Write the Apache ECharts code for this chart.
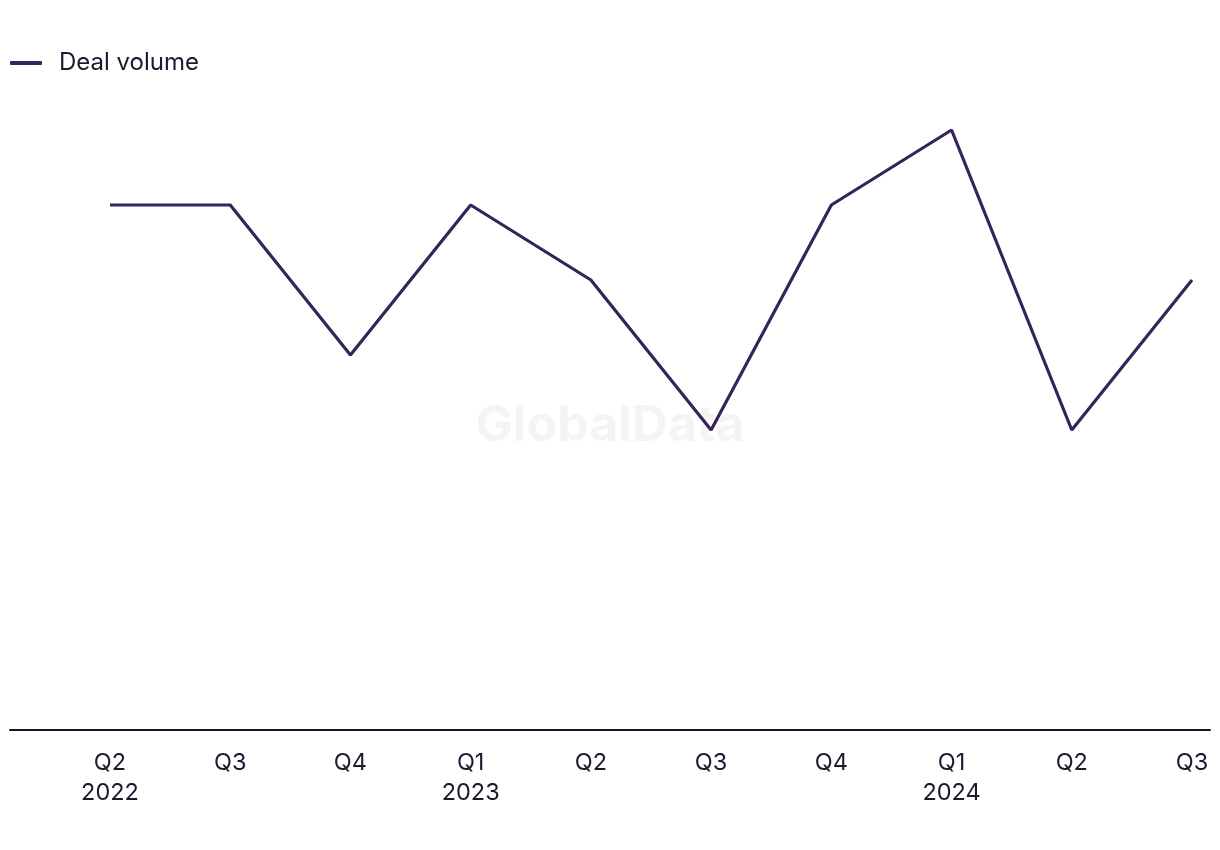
<!DOCTYPE html>
<html>
<head>
<meta charset="utf-8">
<script src="https://cdn.jsdelivr.net/npm/echarts@6/dist/echarts.min.js"></script>
<style>
html,body{margin:0;padding:0;background:#fff;}
#chart{width:1220px;height:850px;}
</style>
</head>
<body>
<div id="chart"></div>
<script>
const categories = ['Q2\n2022','Q3','Q4','Q1\n2023','Q2','Q3','Q4','Q1\n2024','Q2','Q3'];
const dealVolume = [7,7,5,7,6,4,7,8,4,6];
const seriesName = 'Deal volume';

const lineColor = '#36235a';
const textColor = '#1b1a2e';
const chart = echarts.init(document.getElementById('chart'));
chart.setOption({
  backgroundColor: '#ffffff',
  animation: false,
  textStyle: {fontFamily: 'Inter'},
  legend: {
    left: 5, top: 46,
    icon: 'roundRect',
    itemWidth: 32, itemHeight: 4,
    itemGap: 20,
    textStyle: {fontSize: 24, color: textColor, fontFamily: 'Inter', padding: [0,0,0,12]},
    data: [seriesName]
  },
  graphic: [{
    type: 'text', left: 'center', top: 401, z: -1,
    style: {text: 'GlobalData', fill: '#f4f4f4', font: 'bold 50px Inter'}
  }],
  grid: [
    {left: 110, right: 28, top: 130, bottom: 120},
    {left: 10, right: 10, top: 130, bottom: 120}
  ],
  xAxis: [
    {
      type: 'category', gridIndex: 0, data: categories, boundaryGap: false,
      axisLine: {show: false}, axisTick: {show: false},
      axisLabel: {color: textColor, fontSize: 23.5, lineHeight: 30, margin: 18, fontFamily: 'Inter', interval: 0}
    },
    {
      type: 'value', gridIndex: 1, min: 0, max: 1,
      axisLine: {show: true, lineStyle: {color: '#15142a', width: 2}},
      axisTick: {show: false}, axisLabel: {show: false}, splitLine: {show: false}
    }
  ],
  yAxis: [
    {type: 'value', gridIndex: 0, min: 0, max: 8, show: false, splitLine: {show: false}},
    {type: 'value', gridIndex: 1, min: 0, max: 1, show: false, splitLine: {show: false}}
  ],
  series: [{
    name: seriesName, type: 'line', xAxisIndex: 0, yAxisIndex: 0,
    data: dealVolume, showSymbol: false, symbol: 'none',
    lineStyle: {color: lineColor, width: 3.2},
    itemStyle: {color: lineColor}
  }]
});
</script>
</body>
</html>
